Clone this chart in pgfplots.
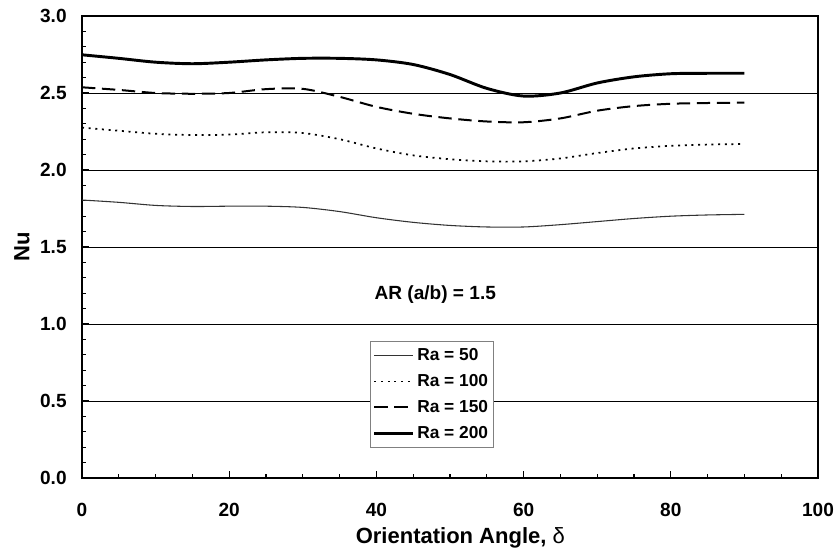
\documentclass[border=0pt]{standalone}
\usepackage{fontspec}
\setmainfont{Liberation Sans}
\usepackage{pgfplots}
\pgfplotsset{compat=1.18}
\begin{document}
\begin{tikzpicture}
\begin{axis}[
 scale only axis, width=552pt, height=346.5pt,
 xmin=0, xmax=100, ymin=0, ymax=3,
 xtick={0,20,40,60,80,100}, minor x tick num=3,
 ytick={0,0.5,1,1.5,2,2.5,3}, minor y tick num=4,
 tick align=inside, xtick pos=left, ytick pos=left,
 major tick length=5pt, minor tick length=3pt,
 ymajorgrids, grid style={black, line width=0.6pt},
 axis line style={line width=1.5pt},
 every tick/.style={black, line width=1pt},
 /pgf/number format/assume math mode=true,
 ticklabel style={font=\bfseries\fontsize{14.3}{16}\selectfont},
 yticklabel style={/pgf/number format/fixed, /pgf/number format/fixed zerofill, /pgf/number format/precision=1, xshift=-8pt},
 xticklabel style={yshift=-15pt},
 xlabel={Orientation Angle, {\mdseries δ}},
 ylabel={Nu},
 label style={font=\bfseries\fontsize{16.5}{19}\selectfont},
 xlabel style={at={(axis description cs:0.514,-0.1299)}, anchor=center},
 ylabel style={at={(axis description cs:-0.0815,0.5)}, anchor=center},
 legend style={at={(axis description cs:0.391,0.2965)}, anchor=north west, draw=gray, line width=0.8pt, fill=white, font=\bfseries\fontsize{13}{15}\selectfont, row sep=5pt, inner xsep=2pt, inner ysep=3pt},
 legend cell align=left,
 legend image code/.code={\draw[#1] (0pt,0pt) -- (29pt,0pt);},
]
\addplot[black!80, line width=0.8pt, smooth] coordinates {
(0,1.805) (5,1.79) (10,1.77) (15,1.763) (20,1.765) (25,1.765) (30,1.757) (35,1.73) (40,1.69) (45,1.66) (50,1.64) (55,1.63) (60,1.63) (65,1.645) (70,1.665) (75,1.685) (80,1.70) (85,1.708) (90,1.712)};
\addlegendentry{Ra = 50}
\addplot[black, line width=1.3pt, dash pattern=on 1.5pt off 3.5pt, smooth] coordinates {
(0,2.275) (5,2.255) (10,2.235) (15,2.227) (20,2.23) (25,2.245) (30,2.24) (35,2.20) (40,2.14) (45,2.095) (50,2.07) (55,2.056) (60,2.056) (65,2.075) (70,2.11) (75,2.14) (80,2.157) (85,2.165) (90,2.169)};
\addlegendentry{Ra = 100}
\addplot[black, line width=1.5pt, dash pattern=on 10pt off 5pt, smooth] coordinates {
(0,2.537) (5,2.52) (10,2.50) (15,2.495) (20,2.50) (25,2.525) (30,2.527) (35,2.475) (40,2.41) (45,2.365) (50,2.335) (55,2.315) (60,2.31) (65,2.335) (70,2.385) (75,2.415) (80,2.43) (85,2.435) (90,2.437)};
\addlegendentry{Ra = 150}
\addplot[black, line width=2.2pt, smooth] coordinates {
(0,2.748) (5,2.725) (10,2.70) (15,2.69) (20,2.70) (25,2.715) (30,2.725) (35,2.725) (40,2.715) (45,2.685) (50,2.62) (55,2.53) (60,2.48) (65,2.50) (70,2.565) (75,2.605) (80,2.625) (85,2.628) (90,2.628)};
\addlegendentry{Ra = 200}
\node[font=\bfseries\fontsize{14.3}{16}\selectfont] at (axis cs:48,1.188) {AR (a/b) = 1.5};
\end{axis}
\pgfresetboundingbox
\useasboundingbox ([shift={(-61.5pt,-55.5pt)}]current axis.south west) rectangle ([shift={(14.25pt,12pt)}]current axis.north east);
\end{tikzpicture}
\end{document}
